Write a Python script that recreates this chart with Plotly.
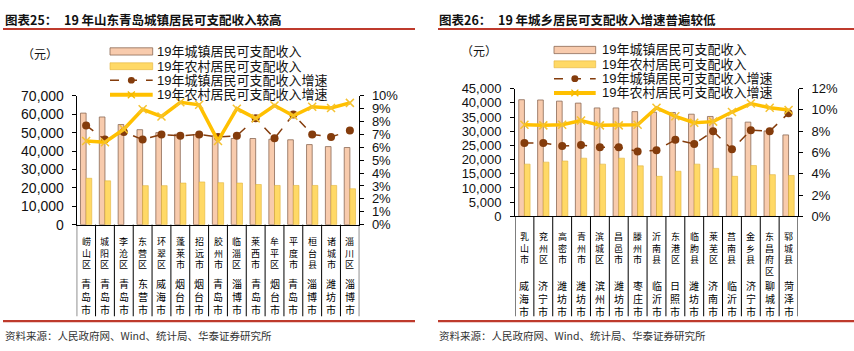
import plotly.graph_objects as go

W, H = 854, 351

# ---------------- data ----------------
left_districts = ["崂山区", "城阳区", "李沧区", "东营区", "环翠区", "蓬莱市", "招远市", "胶州市",
                  "临淄区", "莱西市", "牟平区", "平度市", "桓台县", "诸城市", "淄川区"]
left_cities = ["青岛市", "青岛市", "青岛市", "东营市", "威海市", "烟台市", "烟台市", "青岛市",
               "淄博市", "青岛市", "烟台市", "青岛市", "淄博市", "潍坊市", "淄博市"]
left_urban = [60600, 58500, 54400, 51600, 50000, 49100, 49000, 48300, 46800, 46800, 46400, 46100, 43500, 42400, 41900]
left_rural = [25200, 23800, None, 21200, 21200, 22600, 23200, 22800, 22600, 21800, 21300, 21300, 21300, 21300, 19500]
left_urban_growth = [7.7, 6.6, 7.2, 6.6, 7.0, 6.9, 7.0, 6.8, 6.9, 8.25, 6.7, 8.55, 7.0, 6.8, 7.3]
left_rural_growth = [6.5, 6.4, 7.4, 8.95, 8.4, 9.5, 9.3, 6.5, 9.0, 8.25, 9.25, 8.45, 9.15, 9.05, 9.45]

right_districts = ["乳山市", "兖州区", "高密市", "青州市", "滨城区", "昌邑市", "滕州市", "沂南县",
                   "东港区", "临朐县", "莱芜区", "莒南县", "金乡县", "东昌府区", "郓城县"]
right_cities = ["威海市", "济宁市", "潍坊市", "潍坊市", "滨州市", "潍坊市", "枣庄市", "临沂市",
                "日照市", "潍坊市", "济南市", "临沂市", "济宁市", "聊城市", "菏泽市"]
right_urban = [41100, 41000, 40600, 39900, 38200, 38200, 36900, 36700, 36600, 36000, 35200, 34600, 33200, 30100, 28700]
right_rural = [18400, 19100, 19500, 20500, 18400, 20500, 17800, 14100, 15900, 18400, 16900, 14100, 17900, 14700, 14400]
right_urban_growth = [6.9, 6.9, 6.6, 6.7, 6.5, 6.5, 6.1, 6.2, 7.2, 6.8, 8.0, 6.3, 8.1, 8.0, 9.7]
right_rural_growth = [8.6, 8.55, 8.6, 9.0, 8.55, 8.55, 8.6, 10.2, 9.4, 8.8, 8.9, 9.8, 10.6, 10.2, 10.0]

series_names = ["19年城镇居民可支配收入", "19年农村居民可支配收入",
                "19年城镇居民可支配收入增速", "19年农村居民可支配收入增速"]

titles = [("图表25：", "19 年山东青岛城镇居民可支配收入较高"),
          ("图表26：", "19 年城乡居民可支配收入增速普遍较低")]
source_text = "资料来源：人民政府网、Wind、统计局、华泰证券研究所"

# ---------------- style ----------------
URBAN_FILL = "#F8CBAD"
URBAN_LINE = "#8C6A55"
RURAL_FILL = "#FFD966"
RURAL_LINE = "#E2B43C"
BROWN = "#843C0C"
GOLD = "#FFC000"
RED = "#BE3A2C"
CJK = "Noto Sans CJK SC"
LAT = "Liberation Sans, Arial, Noto Sans CJK SC"


def px(p):
    return p / W


def py(p):
    return 1 - p / H


fig = go.Figure()

panels = [
    dict(xa="x", ya="y", ya2="y2", cats=[d + c for d, c in zip(left_districts, left_cities)],
         urban=left_urban, rural=left_rural, ug=left_urban_growth, rg=left_rural_growth),
    dict(xa="x2", ya="y3", ya2="y4", cats=[d + c for d, c in zip(right_districts, right_cities)],
         urban=right_urban, rural=right_rural, ug=right_urban_growth, rg=right_rural_growth),
]

for p in panels:
    fig.add_trace(go.Bar(x=p["cats"], y=p["urban"], xaxis=p["xa"], yaxis=p["ya"], name=series_names[0],
                         marker=dict(color=URBAN_FILL, line=dict(color=URBAN_LINE, width=0.8)),
                         showlegend=False, offsetgroup="u"))
    fig.add_trace(go.Bar(x=p["cats"], y=p["rural"], xaxis=p["xa"], yaxis=p["ya"], name=series_names[1],
                         marker=dict(color=RURAL_FILL, line=dict(color=RURAL_LINE, width=0.6)),
                         showlegend=False, offsetgroup="r"))
    fig.add_trace(go.Scatter(x=p["cats"], y=p["ug"], xaxis=p["xa"], yaxis=p["ya2"], name=series_names[2],
                             mode="lines+markers", line=dict(color=BROWN, width=1.5, dash="dash"),
                             marker=dict(color=BROWN, size=8, symbol="circle"), showlegend=False))
    fig.add_trace(go.Scatter(x=p["cats"], y=p["rg"], xaxis=p["xa"], yaxis=p["ya2"], name=series_names[3],
                             mode="lines+markers", line=dict(color=GOLD, width=3.5),
                             marker=dict(color="#F7C531", size=8, symbol="x-thin",
                                         line=dict(color="#F5C230", width=1.5)), showlegend=False))

axis_common = dict(showline=True, linecolor="#000", linewidth=1, showgrid=False, zeroline=False,
                   ticks="outside", ticklen=4, tickcolor="#000", fixedrange=True)

# panel geometry (pixels)
L_X0, L_X1, L_Y0, L_Y1 = 76.7, 359.3, 92, 227
R_X0, R_X1, R_Y0, R_Y1 = 515, 798, 84.5, 218.3

fig.update_layout(
    width=W, height=H, margin=dict(l=0, r=0, t=0, b=0),
    paper_bgcolor="white", plot_bgcolor="rgba(0,0,0,0)",
    barmode="group", bargap=0.4, bargroupgap=0, showlegend=False,
    xaxis=dict(domain=[px(L_X0), px(L_X1)], anchor="y", type="category", showticklabels=False,
               showline=True, linecolor="#000", linewidth=1, ticks="", showgrid=False,
               range=[-0.5, 14.5], fixedrange=True),
    yaxis=dict(domain=[py(L_Y1), py(L_Y0)], anchor="x", range=[0, 70000], dtick=10000,
               tickformat=",", tickfont=dict(family=LAT, size=14, color="#111"),
               ticklabelstandoff=5, **axis_common),
    yaxis2=dict(overlaying="y", side="right", anchor="x", range=[0, 10], dtick=1, ticksuffix="%",
                tickfont=dict(family=LAT, size=13, color="#111"), ticklabelstandoff=5, **axis_common),
    xaxis2=dict(domain=[px(R_X0), px(R_X1)], anchor="y3", type="category", showticklabels=False,
                showline=True, linecolor="#000", linewidth=1, ticks="", showgrid=False,
                range=[-0.5, 14.5], fixedrange=True),
    yaxis3=dict(domain=[py(R_Y1), py(R_Y0)], anchor="x2", range=[0, 45000], dtick=5000,
                tickformat=",", tickfont=dict(family=LAT, size=13, color="#111"),
                ticklabelstandoff=6, **axis_common),
    yaxis4=dict(overlaying="y3", side="right", anchor="x2", range=[0, 12], dtick=2, ticksuffix="%",
                tickfont=dict(family=LAT, size=13, color="#111"), ticklabelstandoff=6, **axis_common),
)

shapes = []
annots = []

# ---------- category label tables ----------
tables = [
    dict(xref="x", districts=left_districts, cities=left_cities, ytop=L_Y1, ybot=323,
         dtop=236, ctop=279),
    dict(xref="x2", districts=right_districts, cities=right_cities, ytop=R_Y1, ybot=323,
         dtop=230.5, ctop=281),
]
for t in tables:
    n = len(t["districts"])
    for i in range(n + 1):
        shapes.append(dict(type="line", xref=t["xref"], yref="paper", x0=i - 0.5, x1=i - 0.5,
                           y0=py(t["ytop"]), y1=py(t["ybot"]), line=dict(color="#000", width=1)))
    for i, (d, c) in enumerate(zip(t["districts"], t["cities"])):
        annots.append(dict(xref=t["xref"], yref="paper", x=i, y=py(t["dtop"]), text="<br>".join(d),
                           showarrow=False, xanchor="center", yanchor="top",
                           font=dict(family=CJK, size=9, color="#000")))
        annots.append(dict(xref=t["xref"], yref="paper", x=i, y=py(t["ctop"]), text="<br>".join(c),
                           showarrow=False, xanchor="center", yanchor="top",
                           font=dict(family=CJK, size=10, color="#000")))

# ---------- custom legends ----------
legends = [dict(x0=110, x1=152.7, tx=155, rows=[45.5, 61, 75.7, 91]),
           dict(x0=554, x1=595.7, tx=600, rows=[44, 59, 74, 89])]
for lg in legends:
    x0, x1, r = lg["x0"], lg["x1"], lg["rows"]
    xm = (x0 + x1) / 2
    shapes.append(dict(type="rect", xref="paper", yref="paper", x0=px(x0), x1=px(x1),
                       y0=py(r[0] + 3.8), y1=py(r[0] - 3.8), fillcolor=URBAN_FILL,
                       line=dict(color=URBAN_LINE, width=0.8)))
    shapes.append(dict(type="rect", xref="paper", yref="paper", x0=px(x0), x1=px(x1),
                       y0=py(r[1] + 3.6), y1=py(r[1] - 3.6), fillcolor=RURAL_FILL,
                       line=dict(color=RURAL_LINE, width=0.6)))
    shapes.append(dict(type="line", xref="paper", yref="paper", x0=px(x0), x1=px(x1),
                       y0=py(r[2]), y1=py(r[2]), line=dict(color=BROWN, width=1.5, dash="dash")))
    shapes.append(dict(type="circle", xref="paper", yref="paper", x0=px(xm - 3.5), x1=px(xm + 3.5),
                       y0=py(r[2] + 3.5), y1=py(r[2] - 3.5), fillcolor=BROWN, line=dict(width=0)))
    shapes.append(dict(type="line", xref="paper", yref="paper", x0=px(x0), x1=px(x1),
                       y0=py(r[3]), y1=py(r[3]), line=dict(color=GOLD, width=4)))
    for s in (-1, 1):
        shapes.append(dict(type="line", xref="paper", yref="paper", x0=px(xm - 3.5), x1=px(xm + 3.5),
                           y0=py(r[3] - 3.5 * s), y1=py(r[3] + 3.5 * s),
                           line=dict(color="#F2B800", width=1.3)))
    for k in range(4):
        annots.append(dict(xref="paper", yref="paper", x=px(lg["tx"]), y=py(r[k]), text=series_names[k],
                           showarrow=False, xanchor="left", yanchor="middle",
                           font=dict(family=LAT, size=13, color="#111")))

# unit labels
annots.append(dict(xref="paper", yref="paper", x=px(40), y=py(48), text="（元）", showarrow=False,
                   xanchor="center", yanchor="middle", font=dict(family=CJK, size=12, color="#111")))
annots.append(dict(xref="paper", yref="paper", x=px(479), y=py(45), text="（元）", showarrow=False,
                   xanchor="center", yanchor="middle", font=dict(family=CJK, size=12, color="#111")))

# titles, rules, source
title_pos = [(3, 62, 3, 415), (437, 496, 438, 854)]
for (lab, txt), (tx0, tx1, lx0, lx1) in zip(titles, title_pos):
    annots.append(dict(xref="paper", yref="paper", x=px(tx0), y=py(12), text="<b>" + lab + "</b>",
                       showarrow=False, xanchor="left", yanchor="middle",
                       font=dict(family=CJK, size=12.5, color="#111")))
    annots.append(dict(xref="paper", yref="paper", x=px(tx1), y=py(12), text="<b>" + txt + "</b>",
                       showarrow=False, xanchor="left", yanchor="middle",
                       font=dict(family=CJK, size=12.5, color="#111")))
    shapes.append(dict(type="line", xref="paper", yref="paper", x0=px(lx0), x1=px(lx1),
                       y0=py(22), y1=py(22), line=dict(color=RED, width=2.2)))
    shapes.append(dict(type="line", xref="paper", yref="paper", x0=px(lx0), x1=px(lx1),
                       y0=py(328), y1=py(328), line=dict(color=RED, width=2.2)))
    annots.append(dict(xref="paper", yref="paper", x=px(tx0), y=py(343), text=source_text,
                       showarrow=False, xanchor="left", yanchor="middle",
                       font=dict(family=CJK, size=10.5, color="#333")))

fig.update_layout(shapes=shapes, annotations=annots)
fig.write_html("out.html")
